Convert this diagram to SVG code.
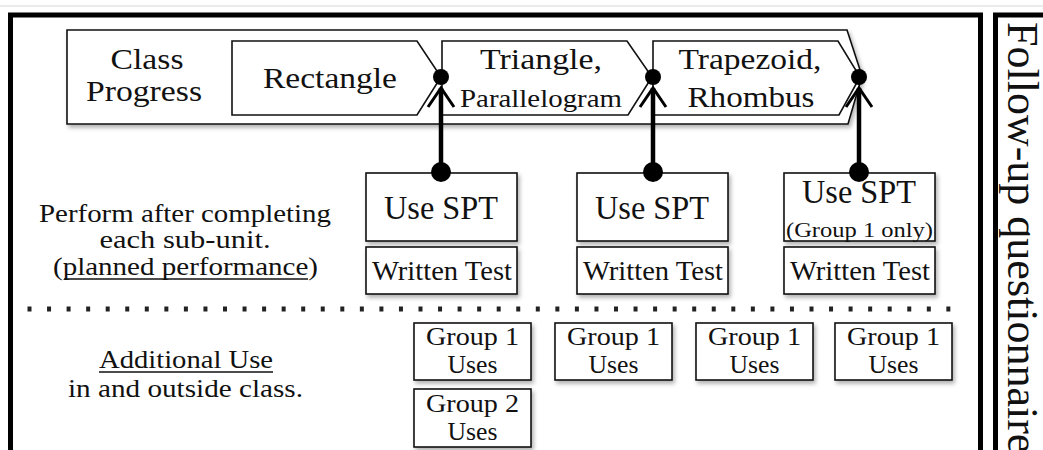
<svg xmlns="http://www.w3.org/2000/svg" width="1043" height="450" viewBox="0 0 1043 450">
<style>
  text { font-family: "Liberation Serif", "Times New Roman", serif; fill: #111; }
  .t33 { font-size: 33px; text-anchor: middle; }
  .t29 { font-size: 29px; text-anchor: middle; }
  .t28 { font-size: 28px; text-anchor: middle; }
  .t26 { font-size: 26px; text-anchor: middle; }
  .t25 { font-size: 25px; text-anchor: middle; }
  .t21 { font-size: 21px; text-anchor: middle; }
  .frame { fill: none; stroke: #000; stroke-width: 5; }
  .shape { fill: #fff; stroke: #111; stroke-width: 1.6; }
  .box { fill: #fff; stroke: #111; stroke-width: 1.6; filter: url(#shadow); }
  .conn { stroke: #000; stroke-width: 4.5; fill: none; marker-start: url(#dotStart); marker-end: url(#arrowDot); }
  .uline { stroke: #111; stroke-width: 1.3; }
</style>
<defs>
  <filter id="shadow" x="-10%" y="-10%" width="130%" height="140%">
    <feDropShadow dx="2" dy="3" stdDeviation="2" flood-color="#000" flood-opacity="0.3"/>
  </filter>
  <marker id="dotStart" markerUnits="userSpaceOnUse" viewBox="-12 -12 24 24" markerWidth="24" markerHeight="24" refX="0" refY="0" orient="auto">
    <circle r="10" fill="#000"/>
  </marker>
  <marker id="arrowDot" markerUnits="userSpaceOnUse" viewBox="-25 -20 50 40" markerWidth="50" markerHeight="40" refX="0" refY="0" orient="auto">
    <path d="M-19,-13 L0,0 L-19,13" fill="none" stroke="#000" stroke-width="3"/>
    <circle cx="11" cy="0" r="8" fill="#000"/>
  </marker>
</defs>
<rect width="1043" height="450" fill="#fff"/>
<line x1="0" y1="6" x2="1043" y2="6" stroke="#e4e4e4" stroke-width="1.5"/>

<g id="main-frame">
  <rect class="frame" x="10.5" y="15" width="970" height="500"/>
</g>
<g id="follow-up">
  <rect class="frame" x="995.5" y="15" width="100" height="500"/>
  <text transform="translate(1008,22) rotate(90)" font-size="44">Follow-up questionnaire</text>
</g>

<g id="class-progress">
  <path class="box" d="M67,30 H847 L862,76 L848,124 H67 Z"/>
  <text class="t29" x="147" y="69" textLength="73" lengthAdjust="spacingAndGlyphs">Class</text>
  <text class="t29" x="144" y="101" textLength="116" lengthAdjust="spacingAndGlyphs">Progress</text>
</g>
<g id="rectangle">
  <path class="shape" d="M232,41 H417 L441,77 L417,115 H232 Z"/>
  <text class="t29" x="330" y="88" textLength="134" lengthAdjust="spacingAndGlyphs">Rectangle</text>
</g>
<g id="triangle">
  <path class="shape" d="M442,41 H627 L652,77 L628,115 H442 Z"/>
  <text class="t29" x="541" y="69" textLength="122" lengthAdjust="spacingAndGlyphs">Triangle,</text>
  <text class="t26" x="541" y="107" textLength="162" lengthAdjust="spacingAndGlyphs">Parallelogram</text>
</g>
<g id="trapezoid">
  <path class="shape" d="M653,41 H838 L860,77 L839,115 H653 Z"/>
  <text class="t29" x="750" y="69" textLength="143" lengthAdjust="spacingAndGlyphs">Trapezoid,</text>
  <text class="t29" x="751" y="107" textLength="127" lengthAdjust="spacingAndGlyphs">Rhombus</text>
</g>

<g id="perform-label">
  <text class="t25" x="185" y="222" textLength="292" lengthAdjust="spacingAndGlyphs">Perform after completing</text>
  <text class="t25" x="185" y="248" textLength="171" lengthAdjust="spacingAndGlyphs">each sub-unit.</text>
  <text class="t25" x="185.5" y="275" textLength="265" lengthAdjust="spacingAndGlyphs">(planned performance)</text>
  <line class="uline" x1="64" y1="279" x2="308" y2="279"/>
</g>

<g id="spt1">
  <rect class="box" x="366" y="173" width="151" height="68"/>
  <text class="t33" x="441" y="219" textLength="114" lengthAdjust="spacingAndGlyphs">Use SPT</text>
</g>
<g id="test1">
  <rect class="box" x="366" y="247" width="151" height="47"/>
  <text class="t28" x="442" y="280" textLength="140" lengthAdjust="spacingAndGlyphs">Written Test</text>
</g>
<g id="spt2">
  <rect class="box" x="577" y="173" width="151" height="68"/>
  <text class="t33" x="652" y="219" textLength="114" lengthAdjust="spacingAndGlyphs">Use SPT</text>
</g>
<g id="test2">
  <rect class="box" x="577" y="247" width="151" height="47"/>
  <text class="t28" x="653" y="280" textLength="140" lengthAdjust="spacingAndGlyphs">Written Test</text>
</g>
<g id="spt3">
  <rect class="box" x="784" y="173" width="151" height="68"/>
  <text class="t33" x="859" y="203" textLength="114" lengthAdjust="spacingAndGlyphs">Use SPT</text>
  <text class="t21" x="859.5" y="237" textLength="147" lengthAdjust="spacingAndGlyphs">(Group 1 only)</text>
</g>
<g id="test3">
  <rect class="box" x="784" y="247" width="151" height="47"/>
  <text class="t28" x="860" y="280" textLength="140" lengthAdjust="spacingAndGlyphs">Written Test</text>
</g>

<g id="divider">
  <line x1="27.5" y1="309" x2="962" y2="309" stroke="#222" stroke-width="5" stroke-dasharray="4 15.55"/>
</g>

<g id="additional-label">
  <text class="t25" x="186" y="368" textLength="174" lengthAdjust="spacingAndGlyphs">Additional Use</text>
  <line class="uline" x1="99" y1="372" x2="273" y2="372"/>
  <text class="t25" x="185.5" y="397" textLength="235" lengthAdjust="spacingAndGlyphs">in and outside class.</text>
</g>

<g id="g1-uses-1">
  <rect class="box" x="414" y="323" width="117" height="57"/>
  <text class="t26" x="472.5" y="345" textLength="93" lengthAdjust="spacingAndGlyphs">Group 1</text>
  <text class="t26" x="472.5" y="373" textLength="50" lengthAdjust="spacingAndGlyphs">Uses</text>
</g>
<g id="g1-uses-2">
  <rect class="box" x="555" y="323" width="117" height="57"/>
  <text class="t26" x="613.5" y="345" textLength="93" lengthAdjust="spacingAndGlyphs">Group 1</text>
  <text class="t26" x="613.5" y="373" textLength="50" lengthAdjust="spacingAndGlyphs">Uses</text>
</g>
<g id="g1-uses-3">
  <rect class="box" x="696" y="323" width="117" height="57"/>
  <text class="t26" x="754.5" y="345" textLength="93" lengthAdjust="spacingAndGlyphs">Group 1</text>
  <text class="t26" x="754.5" y="373" textLength="50" lengthAdjust="spacingAndGlyphs">Uses</text>
</g>
<g id="g1-uses-4">
  <rect class="box" x="835" y="323" width="117" height="57"/>
  <text class="t26" x="893.5" y="345" textLength="93" lengthAdjust="spacingAndGlyphs">Group 1</text>
  <text class="t26" x="893.5" y="373" textLength="50" lengthAdjust="spacingAndGlyphs">Uses</text>
</g>
<g id="g2-uses-1">
  <rect class="box" x="414" y="389" width="117" height="58"/>
  <text class="t26" x="472.5" y="412" textLength="93" lengthAdjust="spacingAndGlyphs">Group 2</text>
  <text class="t26" x="472.5" y="440" textLength="50" lengthAdjust="spacingAndGlyphs">Uses</text>
</g>

<g id="connectors">
  <line class="conn" x1="441" y1="172" x2="441" y2="88"/>
  <line class="conn" x1="653" y1="172" x2="653" y2="88"/>
  <line class="conn" x1="859" y1="172" x2="859" y2="88"/>
</g>
</svg>
